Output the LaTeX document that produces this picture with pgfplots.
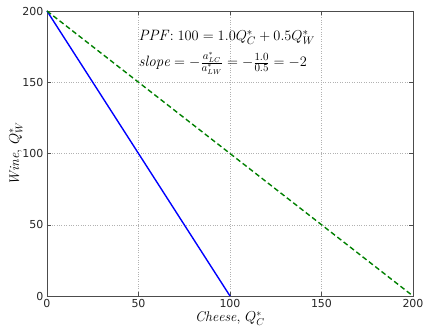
\documentclass[border=0pt]{standalone}
\usepackage{pgfplots}
\pgfplotsset{compat=1.18}
\usepackage{fontspec}
\setsansfont{DejaVu Sans}
\definecolor{mplgreen}{RGB}{0,128,0}
\begin{document}
\begin{tikzpicture}
\begin{axis}[
  scale only axis,
  width=366pt, height=285pt,
  xmin=0, xmax=200, ymin=0, ymax=200,
  xtick={0,50,...,200}, ytick={0,50,...,200},
  tick align=inside,
  major tick length=4pt,
  grid=major,
  grid style={dotted, gray!60},
  axis line style={black!70, line width=0.8pt},
  tick style={black!70},
  /pgf/number format/assume math mode=true,
  ticklabel style={font=\sffamily\fontsize{11}{13}\selectfont, text=black!85},
  xlabel={$\mathit{Cheese},\,Q_C^*$},
  ylabel={$\mathit{Wine},\,Q_W^*$},
  label style={font=\fontsize{14}{16}\selectfont},
  xlabel style={yshift=3pt},
  ylabel style={yshift=-7pt},
  clip=false,
]
\addplot[blue, line width=1.4pt] coordinates {(0,200) (100,0)};
\addplot[mplgreen, line width=1.4pt, dashed, dash pattern=on 5pt off 3pt] coordinates {(0,200) (200,0)};
\node[anchor=base west, inner sep=0pt, font=\fontsize{15}{18}\selectfont] at (axis cs:50,179) {$\mathit{PPF}\!: 100 = 1.0 Q_C^* + 0.5 Q_W^*$};
\node[anchor=base west, inner sep=0pt, font=\fontsize{15}{18}\selectfont] at (axis cs:50,161) {$\mathit{slope} = -\frac{a^*_{LC}}{a^*_{LW}} = -\frac{1.0}{0.5} = -2$};
\end{axis}
\pgfresetboundingbox
\path[use as bounding box] ([shift={(-47pt,-30pt)}]current axis.south west) rectangle ([shift={(10pt,11pt)}]current axis.north east);
\end{tikzpicture}
\end{document}
